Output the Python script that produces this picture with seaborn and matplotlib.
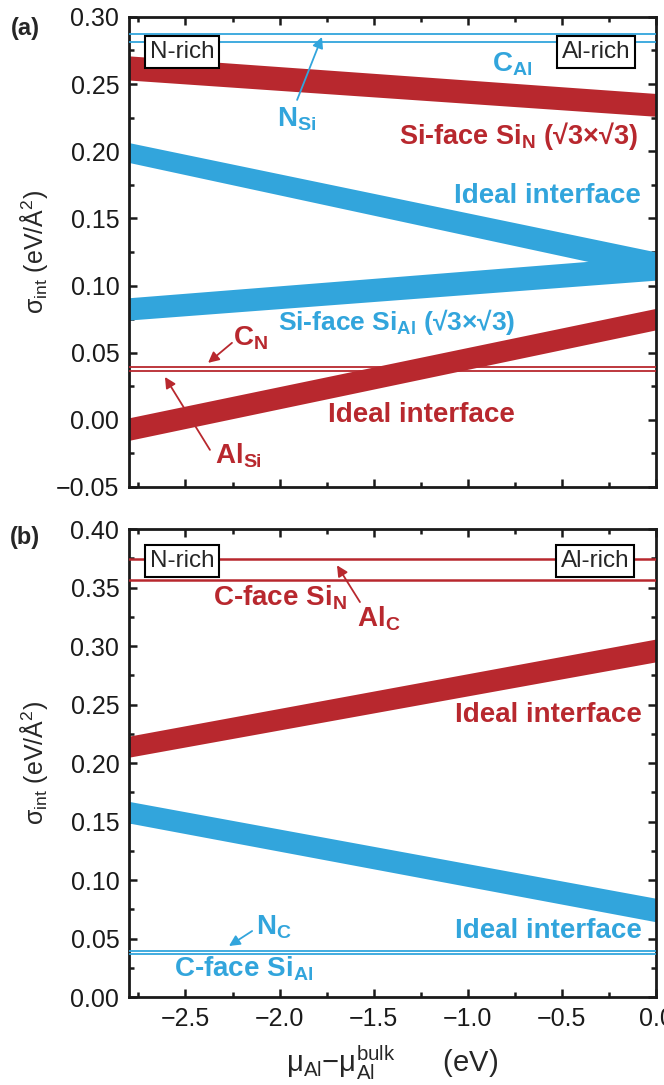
import matplotlib
matplotlib.use("Agg")
import matplotlib.pyplot as plt
from matplotlib.ticker import MultipleLocator
import seaborn as sns

RED = "#b8282e"
BLUE = "#32a5dc"

# chemical potential range (eV)
x_ends = [-2.8, 0.0]

# panel (a): bands are [value at x=-2.8, value at x=0]
a_siN_lo = [0.253, 0.226]
a_siN_hi = [0.271, 0.243]
a_ideal_blue_lo = [0.1916, 0.107]
a_ideal_blue_hi = [0.2064, 0.125]
a_siAl_lo = [0.0743, 0.104]
a_siAl_hi = [0.0909, 0.122]
a_ideal_red_lo = [-0.0153, 0.067]
a_ideal_red_hi = [0.0015, 0.083]
a_blue_levels = [0.287, 0.281]   # N_Si, C_Al
a_red_levels = [0.0395, 0.0365]  # C_N, Al_Si

# panel (b)
b_red_levels = [0.3745, 0.3565]   # Al_C, C-face Si_N
b_ideal_red_lo = [0.205, 0.2865]
b_ideal_red_hi = [0.223, 0.306]
b_ideal_blue_lo = [0.1487, 0.0643]
b_ideal_blue_hi = [0.1672, 0.0844]
b_blue_levels = [0.0395, 0.0365]  # N_C, C-face Si_Al

a_yticks = [-0.05, 0.00, 0.05, 0.10, 0.15, 0.20, 0.25, 0.30]
b_yticks = [0.00, 0.05, 0.10, 0.15, 0.20, 0.25, 0.30, 0.35, 0.40]
x_ticks = [-2.5, -2.0, -1.5, -1.0, -0.5, 0.0]
x_ticklabels = ["−2.5", "−2.0", "−1.5", "−1.0", "−0.5", "0.0"]

sns.set_theme(style="ticks")
plt.rcParams["font.family"] = ["Liberation Sans", "DejaVu Sans"]
plt.rcParams["mathtext.fontset"] = "custom"
plt.rcParams["mathtext.rm"] = "Liberation Sans"
plt.rcParams["mathtext.bf"] = "Liberation Sans:bold"
plt.rcParams["mathtext.it"] = "Liberation Sans:italic"
plt.rcParams["mathtext.sf"] = "Liberation Sans"

fig = plt.figure(figsize=(6.64, 10.85), dpi=100)
ax_a = fig.add_axes([0.1943, 0.5512, 0.7937, 0.4332])
ax_b = fig.add_axes([0.1943, 0.0811, 0.7937, 0.4313])


def style_axis(ax, yticks):
    ax.set_xlim(x_ends)
    ax.set_ylim(yticks[0], yticks[-1])
    ax.set_yticks(yticks)
    ax.yaxis.set_minor_locator(MultipleLocator(0.025))
    ax.set_xticks(x_ticks)
    ax.xaxis.set_minor_locator(MultipleLocator(0.25))
    ax.tick_params(which="both", direction="in", top=True, right=True,
                   width=1.8, labelsize=18, pad=7, colors="#1a1a1a")
    ax.tick_params(which="major", length=6)
    ax.tick_params(which="minor", length=3.5)
    for s in ax.spines.values():
        s.set_linewidth(2.0)
        s.set_color("#1a1a1a")
    ax.set_ylabel("σ$_\\mathrm{int}$ (eV/Å$^2$)", fontsize=18)
    ax.yaxis.set_label_coords(-0.15, 0.5)


def band(ax, lo, hi, color):
    ax.fill_between(x_ends, lo, hi, color=color, lw=0, zorder=2)


def levels(ax, vals, color, lw):
    for v in vals:
        sns.lineplot(x=x_ends, y=[v, v], color=color, lw=lw, ax=ax, zorder=3)


def box(ax, x, y, s):
    ax.text(x, y, s, fontsize=17.5, ha="center", va="center", zorder=5,
            bbox=dict(boxstyle="square,pad=0.2", fc="white", ec="black", lw=1.5))


def arrow(ax, tip, tail, color):
    ax.annotate("", xy=tip, xytext=tail, zorder=4,
                arrowprops=dict(arrowstyle="-|>", color=color, lw=1.3,
                                mutation_scale=16, shrinkA=0, shrinkB=0))


tkw = dict(fontsize=20, fontweight="bold", zorder=4)

# ---- panel (a)
ax = ax_a
band(ax, a_siN_lo, a_siN_hi, RED)
band(ax, a_ideal_blue_lo, a_ideal_blue_hi, BLUE)
band(ax, a_siAl_lo, a_siAl_hi, BLUE)
band(ax, a_ideal_red_lo, a_ideal_red_hi, RED)
levels(ax, a_blue_levels, BLUE, 1.3)
levels(ax, a_red_levels, RED, 1.3)
style_axis(ax, a_yticks)
ax.set_xticklabels([])
ax.set_xlabel("")
box(ax, -2.518, 0.274, "N-rich")
box(ax, -0.319, 0.274, "Al-rich")
ax.text(-0.765, 0.265, "C$_\\mathbf{Al}$", color=BLUE, ha="center", va="center", **tkw)
ax.text(-1.907, 0.224, "N$_\\mathbf{Si}$", color=BLUE, ha="center", va="center", **tkw)
arrow(ax, (-1.775, 0.2851), (-1.907, 0.2382), BLUE)
ax.text(-0.095, 0.2114, "Si-face Si$_\\mathbf{N}$ (√3×√3)", color=RED,
        ha="right", va="center", **{**tkw, "fontsize": 19.5})
ax.text(-0.08, 0.1667, "Ideal interface", color=BLUE, ha="right", va="center", **tkw)
ax.text(-2.008, 0.0725, "Si-face Si$_\\mathbf{Al}$ (√3×√3)", color=BLUE,
        ha="left", va="center", **{**tkw, "fontsize": 19})
ax.text(-2.152, 0.0610, "C$_\\mathbf{N}$", color=RED, ha="center", va="center", **tkw)
arrow(ax, (-2.380, 0.0424), (-2.253, 0.0573), RED)
ax.text(-1.743, 0.0036, "Ideal interface", color=RED, ha="left", va="center", **tkw)
ax.text(-2.221, -0.0269, "Al$_\\mathbf{Si}$", color=RED, ha="center", va="center", **tkw)
arrow(ax, (-2.609, 0.0319), (-2.370, -0.0224), RED)

# ---- panel (b)
ax = ax_b
band(ax, b_ideal_red_lo, b_ideal_red_hi, RED)
band(ax, b_ideal_blue_lo, b_ideal_blue_hi, BLUE)
levels(ax, b_red_levels, RED, 1.8)
levels(ax, b_blue_levels, BLUE, 1.3)
style_axis(ax, b_yticks)
ax.set_xticklabels(x_ticklabels)
ax.set_xlabel("μ$_\\mathrm{Al}$−μ$_\\mathrm{Al}^\\mathrm{bulk}$      (eV)",
              fontsize=21, labelpad=9)
box(ax, -2.518, 0.3726, "N-rich")
box(ax, -0.324, 0.3726, "Al-rich")
ax.text(-2.354, 0.341, "C-face Si$_\\mathbf{N}$", color=RED, ha="left", va="center", **tkw)
ax.text(-1.472, 0.323, "Al$_\\mathbf{C}$", color=RED, ha="center", va="center", **tkw)
arrow(ax, (-1.695, 0.369), (-1.573, 0.3376), RED)
ax.text(-0.074, 0.241, "Ideal interface", color=RED, ha="right", va="center", **tkw)
ax.text(-0.074, 0.0564, "Ideal interface", color=BLUE, ha="right", va="center", **tkw)
ax.text(-2.030, 0.0598, "N$_\\mathbf{C}$", color=BLUE, ha="center", va="center", **tkw)
arrow(ax, (-2.269, 0.0436), (-2.146, 0.0564), BLUE)
ax.text(-2.561, 0.0239, "C-face Si$_\\mathbf{Al}$", color=BLUE, ha="left", va="center", **tkw)

fig.text(0.038, 0.974, "(a)", fontsize=17, fontweight="bold", ha="center", va="center")
fig.text(0.038, 0.505, "(b)", fontsize=17, fontweight="bold", ha="center", va="center")

fig.savefig("out.png", dpi=100)
